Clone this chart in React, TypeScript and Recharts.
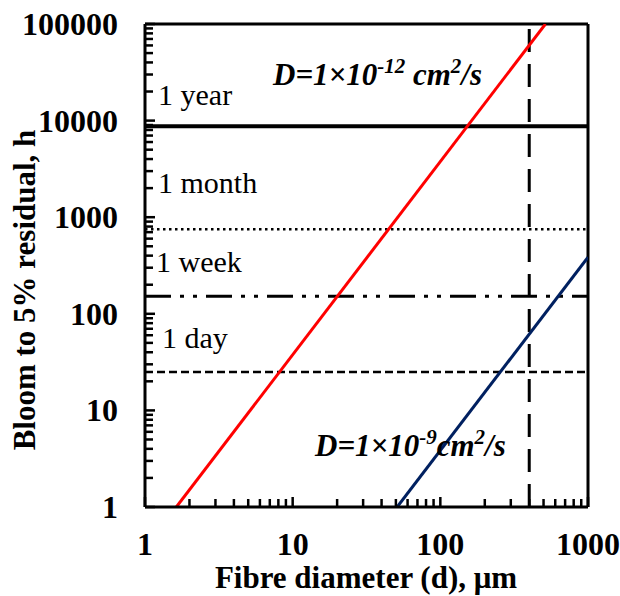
import { LineChart, Line, XAxis, YAxis, ReferenceLine } from 'recharts';

// fibre diameter (µm) vs time to 5% residual (h)
const fastDiameter = [1.63, 515];
const fastHours = [1, 100000];
const slowDiameter = [51, 1000];
const slowHours = [1, 385];

const yearHours = 8760;
const monthHours = 750;
const weekHours = 152;
const dayHours = 25;
const markDiameter = 400;

const xTicks = [1, 2, 3, 4, 5, 6, 7, 8, 9, 10, 20, 30, 40, 50, 60, 70, 80, 90, 100, 200, 300, 400, 500, 600, 700, 800, 900, 1000];
const yTicks = [
  1, 2, 3, 4, 5, 6, 7, 8, 9, 10, 20, 30, 40, 50, 60, 70, 80, 90, 100, 200, 300, 400, 500, 600, 700, 800, 900,
  1000, 2000, 3000, 4000, 5000, 6000, 7000, 8000, 9000, 10000, 20000, 30000, 40000, 50000, 60000, 70000, 80000,
  90000, 100000,
];
const majorTicks = [1, 10, 100, 1000, 10000, 100000];

const fastData = fastDiameter.map((d, i) => ({ d, t: fastHours[i] }));
const slowData = slowDiameter.map((d, i) => ({ d, t: slowHours[i] }));

const FONT = '"Liberation Serif", "Times New Roman", serif';

function XTick({ x, y, payload }: any) {
  const major = majorTicks.includes(payload.value);
  return (
    <g>
      <line x1={x} y1={y} x2={x} y2={y - (major ? 10 : 8)} stroke="#000" strokeWidth={2.5} />
      {major && (
        <text x={x} y={y + 37} textAnchor="middle" dominantBaseline="central" fontFamily={FONT} fontWeight="bold" fontSize={32} fill="#000">
          {payload.value}
        </text>
      )}
    </g>
  );
}

function YTick({ x, y, payload }: any) {
  const major = majorTicks.includes(payload.value);
  return (
    <g>
      <line x1={x} y1={y} x2={x + (major ? 10 : 8)} y2={y} stroke="#000" strokeWidth={2.5} />
      {major && (
        <text x={x - 27} y={y} textAnchor="end" dominantBaseline="central" fontFamily={FONT} fontWeight="bold" fontSize={32} fill="#000">
          {payload.value}
        </text>
      )}
    </g>
  );
}

export default function App() {
  return (
    <div style={{ position: 'absolute', left: 0, top: 0, width: 620, height: 596, background: '#fff' }}>
      <LineChart width={620} height={596} margin={{ top: 24, right: 32, left: 0, bottom: 29 }}>
        <XAxis
          dataKey="d"
          type="number"
          scale="log"
          domain={[1, 1000]}
          allowDataOverflow
          ticks={xTicks}
          interval={0}
          tick={<XTick />}
          tickLine={false}
          tickSize={0}
          tickMargin={0}
          axisLine={{ stroke: '#000', strokeWidth: 3 }}
          height={60}
        />
        <YAxis
          dataKey="t"
          type="number"
          scale="log"
          domain={[1, 100000]}
          allowDataOverflow
          ticks={yTicks}
          interval={0}
          tick={<YTick />}
          tickLine={false}
          tickSize={0}
          tickMargin={0}
          axisLine={{ stroke: '#000', strokeWidth: 3 }}
          width={145}
        />
        <ReferenceLine y={100000} stroke="#000" strokeWidth={3} />
        <ReferenceLine x={1000} stroke="#000" strokeWidth={3} />
        <ReferenceLine y={yearHours} stroke="#000" strokeWidth={4} />
        <ReferenceLine y={monthHours} stroke="#000" strokeWidth={2.5} strokeDasharray="2.5 3.5" />
        <ReferenceLine y={weekHours} stroke="#000" strokeWidth={3} strokeDasharray="26 9 4 9 4 9" />
        <ReferenceLine y={dayHours} stroke="#000" strokeWidth={2.5} strokeDasharray="8 4" />
        <ReferenceLine x={markDiameter} stroke="#000" strokeWidth={3} strokeDasharray="23 12" />
        <Line data={fastData} dataKey="t" stroke="#ff0000" strokeWidth={3} dot={false} isAnimationActive={false} />
        <Line data={slowData} dataKey="t" stroke="#002060" strokeWidth={3} dot={false} isAnimationActive={false} />
      </LineChart>
      <svg width={620} height={596} style={{ position: 'absolute', left: 0, top: 0, pointerEvents: 'none' }} fontFamily={FONT}>
        <g fontSize={30} fill="#000">
          <text x={158} y={105}>1 year</text>
          <text x={158} y={193}>1 month</text>
          <text x={156} y={272}>1 week</text>
          <text x={162} y={348}>1 day</text>
        </g>
        <g fontSize={31} fontWeight="bold" fontStyle="italic" fill="#000">
          <text x={273} y={85}>
            D=1×10<tspan dy={-12} fontSize={21}>-12</tspan>
            <tspan dy={12}> cm</tspan>
            <tspan dy={-12} fontSize={21}>2</tspan>
            <tspan dy={12}>/s</tspan>
          </text>
          <text x={315} y={456}>
            D=1×10<tspan dy={-12} fontSize={21}>-9</tspan>
            <tspan dy={12}>cm</tspan>
            <tspan dy={-12} fontSize={21}>2</tspan>
            <tspan dy={12}>/s</tspan>
          </text>
        </g>
        <text x={366} y={588} textAnchor="middle" fontSize={31} fontWeight="bold" fill="#000">
          Fibre diameter (d), μm
        </text>
        <text
          x={24}
          y={290}
          textAnchor="middle"
          dominantBaseline="central"
          fontSize={31}
          fontWeight="bold"
          fill="#000"
          transform="rotate(-90 24 290)"
        >
          Bloom to 5% residual, h
        </text>
      </svg>
    </div>
  );
}
